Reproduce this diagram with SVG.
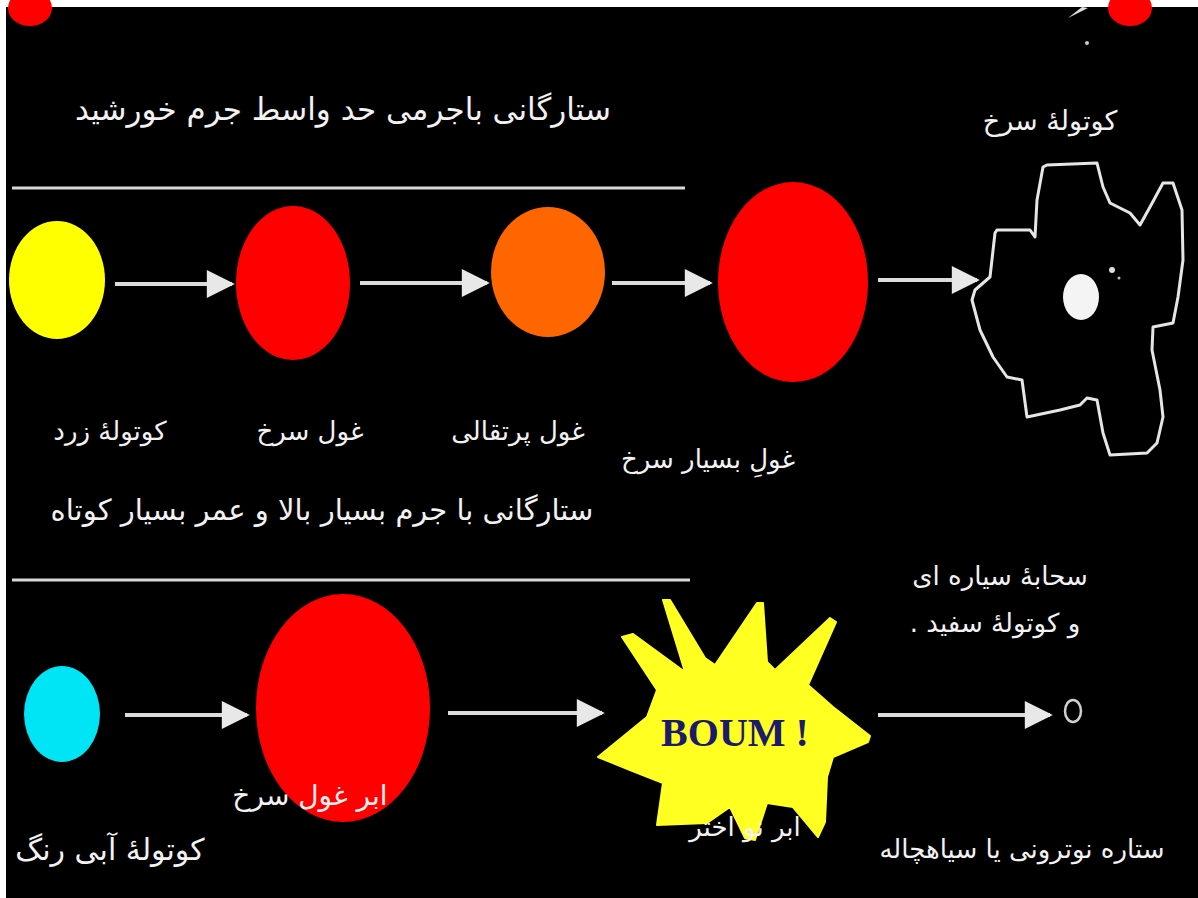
<svg xmlns="http://www.w3.org/2000/svg" width="1198" height="898" viewBox="0 0 1198 898">
  <style>
    .fa { font-family: "DejaVu Sans", "Noto Sans", sans-serif; fill: #f2f2f2; direction: rtl; text-anchor: middle; }
    .rule { stroke: #d8d8d8; stroke-width: 3; }
    .link { stroke: #dcdcdc; stroke-width: 4; fill: none; }
    .head { fill: #e8e8e8; }
  </style>
  <defs>
    <marker id="arrow" viewBox="0 0 10 10" refX="9" refY="5" markerWidth="8" markerHeight="7" markerUnits="strokeWidth" orient="auto">
      <path d="M0,0 L10,5 L0,10 Z" class="head"/>
    </marker>
  </defs>

  <!-- frame -->
  <rect x="0" y="0" width="1198" height="898" fill="#ffffff"/>
  <rect x="6" y="7" width="1192" height="891" fill="#000000"/>

  <!-- clipped stars at the top edge -->
  <g id="top-stars">
    <ellipse cx="30" cy="8" rx="22" ry="18" fill="#ff0000"/>
    <ellipse cx="1130" cy="8" rx="22" ry="18" fill="#ff0000"/>
    <path d="M1068,18 L1088,8 L1082,7 Z" fill="#e0e0e0"/>
    <circle cx="1087" cy="43" r="2" fill="#cccccc"/>
  </g>

  <!-- section headings and rules -->
  <g id="heading-medium">
    <text class="fa" x="343" y="120" font-size="31">ستارگانی باجرمی حد واسط جرم خورشید</text>
    <line class="rule" x1="12" y1="188" x2="685" y2="188"/>
  </g>
  <g id="heading-massive">
    <text class="fa" x="322" y="520" font-size="29">ستارگانی با جرم بسیار بالا و عمر بسیار کوتاه</text>
    <line class="rule" x1="12" y1="580" x2="690" y2="580"/>
  </g>

  <!-- upper sequence -->
  <g id="yellow-dwarf">
    <ellipse cx="57" cy="280" rx="48" ry="59" fill="#ffff00"/>
    <text class="fa" x="110" y="440" font-size="26">کوتولهٔ زرد</text>
  </g>
  <g id="red-giant">
    <ellipse cx="293" cy="283" rx="57" ry="77" fill="#ff0000"/>
    <text class="fa" x="310" y="440" font-size="26">غول سرخ</text>
  </g>
  <g id="orange-giant">
    <ellipse cx="548" cy="272" rx="57" ry="65" fill="#ff6600"/>
    <text class="fa" x="518" y="440" font-size="26">غول پرتقالی</text>
  </g>
  <g id="very-red-giant">
    <ellipse cx="793" cy="282" rx="75" ry="100" fill="#ff0000"/>
    <text class="fa" x="708" y="468" font-size="26">غولِ بسیار سرخ</text>
  </g>
  <g id="red-dwarf">
    <text class="fa" x="1050" y="130" font-size="27">کوتولهٔ سرخ</text>
    <path d="M1043,167 L1047,165 L1097,163 L1103,187 L1110,203 L1130,213 L1140,225 L1150,207 L1163,183 L1173,183 L1182,210 L1183,260 L1178,297 L1173,323 L1153,327 L1152,350 L1160,390 L1163,417 L1157,443 L1147,453 L1110,455 L1103,433 L1097,400 L1087,398 L1080,405 L1060,410 L1027,417 L1022,380 L1007,377 L993,357 L980,330 L972,300 L975,290 L990,277 L995,233 L997,230 L1030,230 L1035,237 L1037,200 Z" fill="none" stroke="#e6e6e6" stroke-width="3" stroke-linejoin="round"/>
    <ellipse cx="1081" cy="297" rx="18" ry="23" fill="#f4f4f4"/>
    <circle cx="1112" cy="270" r="3" fill="#dddddd"/>
    <circle cx="1119" cy="278" r="1.5" fill="#bbbbbb"/>
  </g>

  <!-- lower sequence -->
  <g id="blue-dwarf">
    <ellipse cx="62" cy="714" rx="38" ry="48" fill="#00e5f5"/>
    <text class="fa" x="110" y="860" font-size="30">کوتولهٔ آبی رنگ</text>
  </g>
  <g id="red-supergiant">
    <ellipse cx="343" cy="708" rx="87" ry="114" fill="#ff0000"/>
    <text class="fa" x="310" y="805" font-size="28">ابر غول سرخ</text>
  </g>
  <g id="supernova">
    <path d="M598,757 L647,717 L657,690 L622,637 L633,634 L685,672 L663,600 L670,600 L705,658 L715,665 L757,603 L763,603 L767,662 L775,670 L830,618 L836,622 L808,685 L833,707 L870,736 L868,742 L833,757 L827,777 L825,822 L818,837 L793,807 L767,803 L755,840 L745,838 L730,807 L707,823 L657,825 L663,783 L630,770 Z" fill="#ffff22" stroke="#ffff22" stroke-width="2" stroke-linejoin="round"/>
    <text x="735" y="746" font-family="'Liberation Serif', serif" font-weight="bold" font-size="40" fill="#1a1a6e" text-anchor="middle">BOUM !</text>
    <text class="fa" x="745" y="836" font-size="26">ابر نو اختر</text>
  </g>
  <g id="remnant">
    <ellipse cx="1073" cy="711" rx="8" ry="11" fill="none" stroke="#d0d0d0" stroke-width="2.5"/>
    <text class="fa" x="1000" y="585" font-size="26">سحابهٔ سیاره ای</text>
    <text class="fa" x="995" y="632" font-size="26">و کوتولهٔ سفید .</text>
    <text class="fa" x="1022" y="858" font-size="26">ستاره نوترونی یا سیاهچاله</text>
  </g>

  <!-- connectors -->
  <g id="connectors">
    <line class="link" x1="115" y1="284" x2="232" y2="284" marker-end="url(#arrow)"/>
    <line class="link" x1="360" y1="283" x2="487" y2="283" marker-end="url(#arrow)"/>
    <line class="link" x1="612" y1="283" x2="710" y2="283" marker-end="url(#arrow)"/>
    <line class="link" x1="878" y1="280" x2="977" y2="280" marker-end="url(#arrow)"/>
    <line class="link" x1="125" y1="715" x2="247" y2="715" marker-end="url(#arrow)"/>
    <line class="link" x1="448" y1="713" x2="602" y2="713" marker-end="url(#arrow)"/>
    <line class="link" x1="878" y1="715" x2="1050" y2="715" marker-end="url(#arrow)"/>
  </g>
</svg>
